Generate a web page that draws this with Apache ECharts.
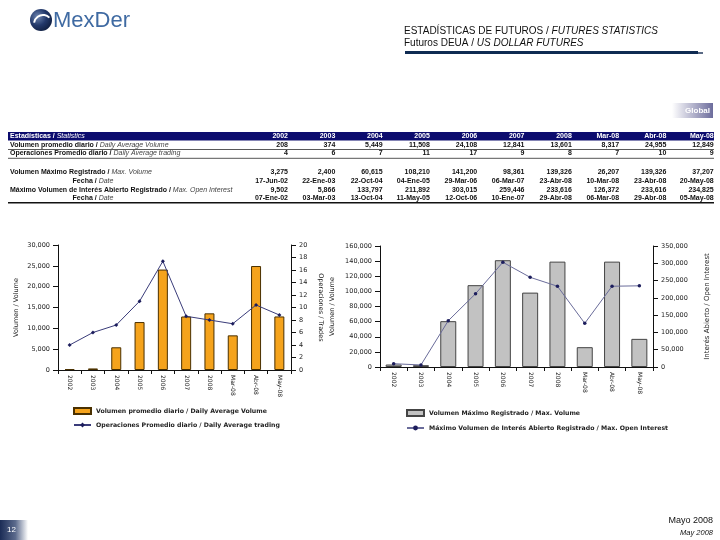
<!DOCTYPE html>
<html><head><meta charset="utf-8">
<script src="https://cdn.jsdelivr.net/npm/echarts/dist/echarts.min.js"></script>
<style>html,body{margin:0;padding:0;background:#fff}#c{width:720px;height:540px}</style>
</head><body><div id="c"></div>
<script>
// ---- data ----
const categories = ['2002','2003','2004','2005','2006','2007','2008','Mar-08','Abr-08','May-08'];
const avgVolume = [208, 374, 5449, 11508, 24108, 12841, 13601, 8317, 24955, 12849];
const avgTrades = [4.0, 6.0, 7.2, 11.0, 17.4, 8.6, 8.0, 7.4, 10.4, 8.8];
const maxVolume = [3275, 2400, 60615, 108210, 141200, 98361, 139326, 26207, 139326, 37207];
const maxVolumeDate = ['17-Jun-02','22-Ene-03','22-Oct-04','04-Ene-05','29-Mar-06','06-Mar-07','23-Abr-08','10-Mar-08','23-Abr-08','20-May-08'];
const openInterest = [9502, 5866, 133797, 211892, 303015, 259446, 233616, 126372, 233616, 234825];
const openInterestDate = ['07-Ene-02','03-Mar-03','13-Oct-04','11-May-05','12-Oct-06','10-Ene-07','29-Abr-08','06-Mar-08','29-Abr-08','05-May-08'];

const nameAvgVol = 'Volumen promedio diario / Daily Average Volume';
const nameAvgTr = 'Operaciones Promedio diario / Daily Average trading';
const nameMaxVol = 'Volumen Máximo Registrado / Max. Volume';
const nameOI = 'Máximo Volumen de Interés Abierto Registrado / Max. Open Interest';

const fmt = v => Number(v).toLocaleString('en-US');
const TF = "'Liberation Sans Narrow','Liberation Sans',Arial,sans-serif";
const CF = "'DejaVu Sans',Verdana,sans-serif";

// ---- graphic: header, table, footer ----
const g = [];
// logo
g.push({type:'circle', shape:{cx:41, cy:20, r:11}, style:{fill:new echarts.graphic.RadialGradient(0.35,0.35,0.8,[{offset:0,color:'#6f86b0'},{offset:0.5,color:'#22386a'},{offset:1,color:'#0b1836'}])}});
g.push({type:'arc', shape:{cx:43, cy:24, r:9, startAngle:Math.PI*1.05, endAngle:Math.PI*1.75}, style:{stroke:'#ffffff', lineWidth:2, fill:null}});
g.push({type:'text', style:{x:53, y:21, text:'MexDer', font:"22px 'Liberation Sans',Arial,sans-serif", fill:'#3f6aa2', verticalAlign:'middle'}});
// title
const tRich = {n:{fontSize:10, fontFamily:"'Liberation Sans',Arial", fill:'#111'}, i:{fontSize:10, fontStyle:'italic', fontFamily:"'Liberation Sans',Arial", fill:'#111'}};
g.push({type:'text', style:{x:404, y:31, text:'{n|ESTADÍSTICAS DE FUTUROS / }{i|FUTURES STATISTICS}', verticalAlign:'middle', rich:tRich}});
g.push({type:'text', style:{x:404, y:43, text:'{n|Futuros DEUA / }{i|US DOLLAR FUTURES}', verticalAlign:'middle', rich:tRich}});
g.push({type:'rect', shape:{x:405, y:51, width:293, height:3}, style:{fill:'#0f2b52'}});
g.push({type:'rect', shape:{x:698, y:52, width:5, height:2}, style:{fill:'#5a6a85'}});
// Global badge
g.push({type:'rect', shape:{x:672, y:103, width:41, height:15}, style:{fill:new echarts.graphic.LinearGradient(0,0,1,0,[{offset:0,color:'#ffffff'},{offset:1,color:'#6c6c9c'}])}});
g.push({type:'text', style:{x:710, y:110.5, text:'Global', align:'right', verticalAlign:'middle', font:"bold 8px 'Liberation Sans',Arial", fill:'#ffffff'}});
// table
const colRight = i => 288 + i*47.3;
g.push({type:'rect', shape:{x:8, y:132, width:706, height:8.5}, style:{fill:'#0c0c6e'}});
g.push({type:'text', style:{x:10, y:136.3, verticalAlign:'middle', text:'{b|Estadísticas / }{i|Statistics}', rich:{b:{fontSize:7, fontWeight:'bold', fontFamily:TF, fill:'#fff'}, i:{fontSize:7, fontStyle:'italic', fontFamily:TF, fill:'#fff'}}}});
categories.forEach((c,i)=>{
  g.push({type:'text', style:{x:colRight(i), y:136.3, align:'right', verticalAlign:'middle', text:c, font:"bold 7px "+TF, fill:'#fff'}});
});
const rows = [
  {lab:'Volumen promedio diario / ', it:'Daily Average Volume', y:145, vals:avgVolume.map(fmt)},
  {lab:'Operaciones Promedio diario / ', it:'Daily Average trading', y:153.5, vals:avgTrades.map(v=>String(Math.round(v)))},
  {lab:'Volumen Máximo Registrado / ', it:'Max. Volume', y:172, vals:maxVolume.map(fmt)},
  {lab:'Fecha / ', it:'Date', y:181, center:true, vals:maxVolumeDate},
  {lab:'Máximo Volumen de Interés Abierto Registrado / ', it:'Max. Open Interest', y:190, vals:openInterest.map(fmt)},
  {lab:'Fecha / ', it:'Date', y:198.5, center:true, vals:openInterestDate}
];
rows.forEach(r=>{
  g.push({type:'text', style:{x:r.center?93:10, y:r.y, align:r.center?'center':'left', verticalAlign:'middle',
    text:'{b|'+r.lab+'}{i|'+r.it+'}', rich:{b:{fontSize:7, fontWeight:'bold', fontFamily:TF, fill:'#111'}, i:{fontSize:7, fontStyle:'italic', fontFamily:TF, fill:'#444'}}}});
  r.vals.forEach((v,i)=>{
    g.push({type:'text', style:{x:colRight(i), y:r.y, align:'right', verticalAlign:'middle', text:v, font:"bold 7px "+TF, fill:'#111'}});
  });
});
g.push({type:'rect', shape:{x:8, y:149, width:706, height:0.8}, style:{fill:'#222'}});
g.push({type:'rect', shape:{x:8, y:157.8, width:706, height:1.2}, style:{fill:'#777'}});
g.push({type:'rect', shape:{x:8, y:202, width:706, height:1.6}, style:{fill:'#111'}});
// footer
g.push({type:'rect', shape:{x:0, y:520, width:28, height:20}, style:{fill:new echarts.graphic.LinearGradient(0,0,1,0,[{offset:0,color:'#1b2c56'},{offset:0.55,color:'#5b6a8c'},{offset:1,color:'#ffffff'}])}});
g.push({type:'text', style:{x:7, y:530, verticalAlign:'middle', text:'12', font:"8px 'Liberation Sans',Arial", fill:'#fff'}});
g.push({type:'text', style:{x:713, y:521, align:'right', verticalAlign:'middle', text:'Mayo 2008', font:"9px 'Liberation Sans',Arial", fill:'#111'}});
g.push({type:'text', style:{x:713, y:533, align:'right', verticalAlign:'middle', text:'May 2008', font:"italic 7.5px 'Liberation Sans',Arial", fill:'#111'}});

// ---- chart axes ----
const axLine = {show:true, lineStyle:{color:'#111', width:1}};
const axTick = {show:true, length:5, lineStyle:{color:'#111'}};
const yLab = {fontSize:6.5, color:'#222', fontFamily:CF, margin:8};
const nameSt = {fontSize:6.5, color:'#222', fontFamily:CF};
const xAx = gi => ({gridIndex:gi, type:'category', data:categories, axisLine:axLine,
  axisTick:{show:true, length:4, lineStyle:{color:'#111'}},
  axisLabel:{rotate:-90, fontSize:6, color:'#222', fontFamily:CF, margin:5}});

const option = {
  animation:false,
  backgroundColor:'#ffffff',
  graphic:{elements:g},
  grid:[{left:58, top:245, width:233, height:125}, {left:380, top:246, width:273, height:121}],
  xAxis:[xAx(0), xAx(1)],
  yAxis:[
    {gridIndex:0, type:'value', min:0, max:30000, interval:5000, position:'left', name:'Volumen / Volume', nameLocation:'middle', nameGap:38, nameRotate:90, nameTextStyle:nameSt,
      axisLine:axLine, axisTick:axTick, splitLine:{show:false}, axisLabel:Object.assign({formatter:fmt}, yLab)},
    {gridIndex:0, type:'value', min:0, max:20, interval:2, position:'right', name:'Operaciones / Trades', nameLocation:'middle', nameGap:26, nameRotate:-90, nameTextStyle:nameSt,
      axisLine:axLine, axisTick:axTick, splitLine:{show:false}, axisLabel:yLab},
    {gridIndex:1, type:'value', min:0, max:160000, interval:20000, position:'left', name:'Volumen / Volume', nameLocation:'middle', nameGap:44, nameRotate:90, nameTextStyle:nameSt,
      axisLine:axLine, axisTick:axTick, splitLine:{show:false}, axisLabel:Object.assign({formatter:fmt}, yLab)},
    {gridIndex:1, type:'value', min:0, max:350000, interval:50000, position:'right', name:'Interés Abierto / Open Interest', nameLocation:'middle', nameGap:51, nameRotate:90, nameTextStyle:{fontSize:7, color:'#222', fontFamily:CF},
      axisLine:axLine, axisTick:axTick, splitLine:{show:false}, axisLabel:Object.assign({formatter:fmt}, yLab)}
  ],
  legend:[
    {data:[{name:nameAvgVol, icon:'rect'}, {name:nameAvgTr}], orient:'vertical', left:68, top:402, itemWidth:17, itemHeight:6, itemGap:7,
      textStyle:{fontSize:6.2, color:'#222', fontFamily:CF, fontWeight:'bold'}},
    {data:[{name:nameMaxVol, icon:'rect'}, {name:nameOI}], orient:'vertical', left:401, top:404, itemWidth:17, itemHeight:6, itemGap:8,
      textStyle:{fontSize:6.2, color:'#222', fontFamily:CF, fontWeight:'bold'}}
  ],
  series:[
    {name:nameAvgVol, type:'bar', xAxisIndex:0, yAxisIndex:0, data:avgVolume, barWidth:10,
      itemStyle:{color:'#f5a31c', borderColor:'#4a3000', borderWidth:1}},
    {name:nameAvgTr, type:'line', xAxisIndex:0, yAxisIndex:1, data:avgTrades, symbol:'diamond', symbolSize:4,
      lineStyle:{color:'#3a3c7a', width:1}, itemStyle:{color:'#1c1d5c'}},
    {name:nameMaxVol, type:'bar', xAxisIndex:1, yAxisIndex:2, data:maxVolume, barWidth:16,
      itemStyle:{color:'#c2c2c2', borderColor:'#444', borderWidth:1}},
    {name:nameOI, type:'line', xAxisIndex:1, yAxisIndex:3, data:openInterest, symbol:'circle', symbolSize:3.5,
      lineStyle:{color:'#6a6c9a', width:1}, itemStyle:{color:'#1c1d5c'}}
  ]
};
const chart = echarts.init(document.getElementById('c'), null, {renderer:'canvas'});
chart.setOption(option);
</script>
</body></html>
